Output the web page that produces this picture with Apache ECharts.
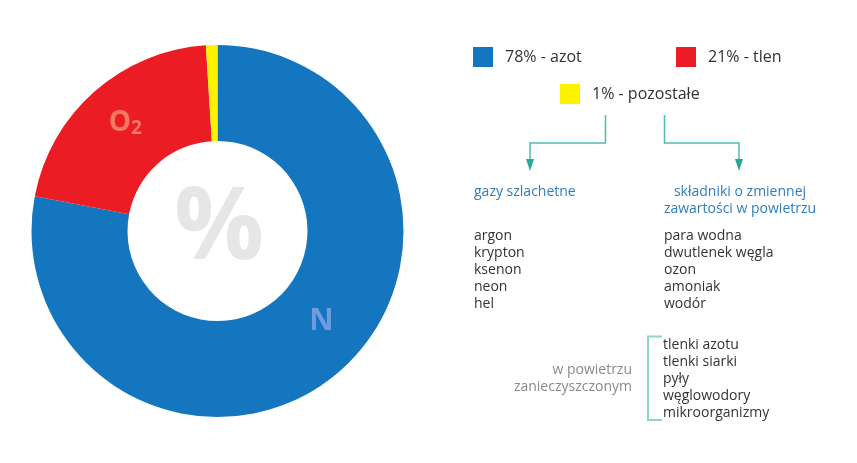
<!DOCTYPE html>
<html>
<head>
<meta charset="utf-8">
<title>Skład powietrza</title>
<script src="https://cdn.jsdelivr.net/npm/echarts@6/dist/echarts.min.js"></script>
<style>
  html, body { margin: 0; padding: 0; background: #fff; }
  #chart { width: 857px; height: 463px; }
</style>
</head>
<body>
<div id="chart"></div>
<script>
// dane wykresu
const gasNames = ['azot', 'tlen', 'pozostałe'];
const gasShares = [78, 21, 1];
const gasColors = ['#1476be', '#ec1c24', '#fff200'];
const nobleGases = ['argon', 'krypton', 'ksenon', 'neon', 'hel'];
const variableComponents = ['para wodna', 'dwutlenek węgla', 'ozon', 'amoniak', 'wodór'];
const pollutants = ['tlenki azotu', 'tlenki siarki', 'pyły', 'węglowodory', 'mikroorganizmy'];

const FONT = '"Open Sans", "Noto Sans", sans-serif';
const TEAL = '#4dbdb0';

const chart = echarts.init(document.getElementById('chart'));

// etykiety w pierścieniu
const sliceLabels = [
  { formatter: '{n|N}', offset: [14, -18] },
  { formatter: '{o|O}{s|2}', offset: [1, -2] },
  { show: false }
];

const seriesData = gasNames.map((name, i) => ({
  name: name,
  value: gasShares[i],
  itemStyle: { color: gasColors[i] },
  label: sliceLabels[i]
}));

// osobna legenda dla każdej pozycji
const legendPos = [[473, 47], [676, 47], [560, 84]];
const legends = gasNames.map((name, i) => ({
  data: [name],
  left: legendPos[i][0],
  top: legendPos[i][1],
  padding: 0,
  icon: 'rect',
  itemWidth: 20,
  itemHeight: 20,
  selectedMode: false,
  formatter: n => gasShares[gasNames.indexOf(n)] + '% - ' + n,
  textStyle: { fontFamily: FONT, fontSize: 16, color: '#333', padding: [0, 0, 0, 7] }
}));

function textEl(x, y, lines, opts) {
  return {
    type: 'text',
    x: x,
    y: y,
    style: Object.assign({
      text: lines.join('\n'),
      fontFamily: FONT,
      fontSize: 14,
      lineHeight: 17,
      fill: '#333',
      align: 'left',
      verticalAlign: 'top'
    }, opts || {})
  };
}

const option = {
  backgroundColor: '#fff',
  legend: legends,
  series: [
    {
      type: 'pie',
      center: [217.5, 231],
      radius: [90, 186],
      startAngle: 90,
      clockwise: true,
      silent: true,
      data: seriesData,
      labelLine: { show: false },
      label: {
        show: true,
        position: 'inside',
        fontFamily: FONT,
        fontWeight: 'bold',
        rich: {
          n: { fontFamily: FONT, fontWeight: 'bold', fontSize: 30, color: '#6f9be0' },
          o: { fontFamily: FONT, fontWeight: 'bold', fontSize: 28, color: '#f57a5f', lineHeight: 30 },
          s: { fontFamily: FONT, fontWeight: 'bold', fontSize: 19, color: '#f57a5f', padding: [10, 0, 0, 0], lineHeight: 30 }
        }
      }
    }
  ],
  graphic: [
    // znak procentu w środku
    {
      type: 'text',
      x: 219,
      y: 231,
      style: {
        text: '%',
        fontFamily: FONT,
        fontWeight: 'bold',
        fontSize: 100,
        fill: '#e6e6e6',
        align: 'center',
        verticalAlign: 'middle'
      }
    },
    // strzałki
    {
      type: 'polyline',
      shape: { points: [[605.5, 115], [605.5, 143], [530, 143], [530, 162]] },
      style: { stroke: TEAL, lineWidth: 1.5, fill: null }
    },
    {
      type: 'polygon',
      shape: { points: [[526, 159], [534, 159], [530, 171]] },
      style: { fill: '#29a898' }
    },
    {
      type: 'polyline',
      shape: { points: [[664.5, 115], [664.5, 143], [739, 143], [739, 162]] },
      style: { stroke: TEAL, lineWidth: 1.5, fill: null }
    },
    {
      type: 'polygon',
      shape: { points: [[735, 159], [743, 159], [739, 171]] },
      style: { fill: '#29a898' }
    },
    // nawias
    {
      type: 'polyline',
      shape: { points: [[662, 336.5], [648, 336.5], [648, 420], [662, 420]] },
      style: { stroke: '#8fd3ca', lineWidth: 2, fill: null }
    },
    // nagłówki
    textEl(474, 183.5, ['gazy szlachetne'], { fill: '#2f7dbd' }),
    textEl(740, 183.5, ['składniki o zmiennej', 'zawartości w powietrzu'], { fill: '#2f7dbd', align: 'center' }),
    textEl(632, 361.5, ['w powietrzu', 'zanieczyszczonym'], { fill: '#8a8a8a', align: 'right' }),
    // listy
    textEl(474, 227.5, nobleGases),
    textEl(664, 227.5, variableComponents),
    textEl(663, 336.5, pollutants)
  ]
};

chart.setOption(option);
</script>
</body>
</html>
